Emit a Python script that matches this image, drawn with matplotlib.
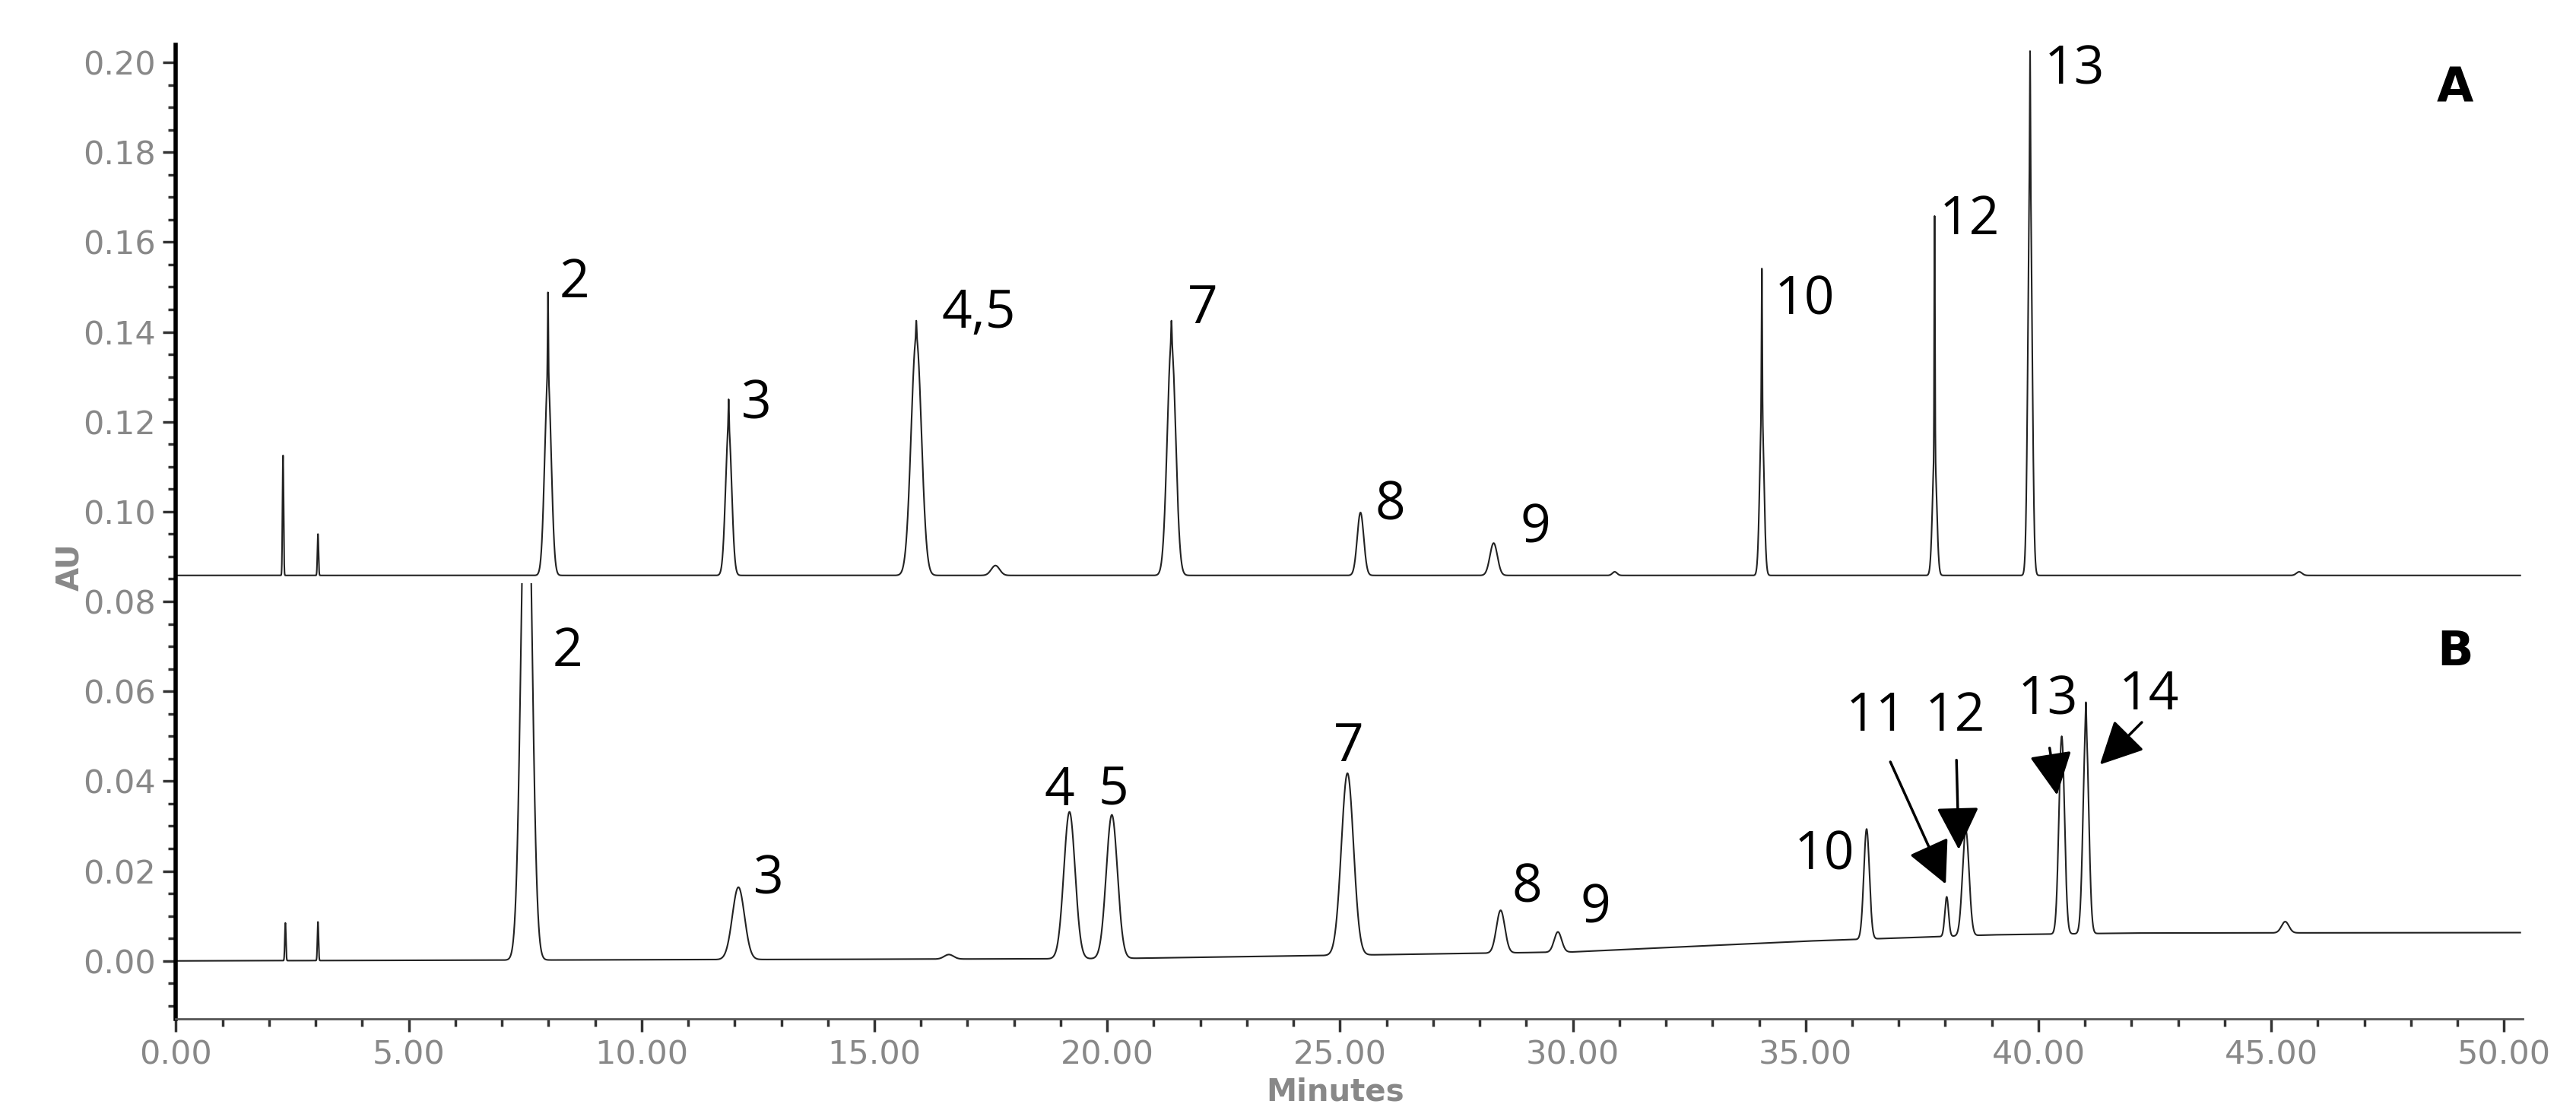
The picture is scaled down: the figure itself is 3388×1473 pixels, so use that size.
import numpy as np
import matplotlib
matplotlib.use("Agg")
import matplotlib.pyplot as plt
from matplotlib.patches import Rectangle

# peak tables: retention time (min), peak body height (AU),
# body width (sigma, min) and the extra height of the sharp tip sitting on top of the body
a_offset = 0.0858
a_times = [2.30, 3.05, 7.99, 11.87, 15.90, 17.60, 21.38, 25.44, 28.30, 30.90, 34.06, 37.77, 39.82, 45.60]
a_heights = [0.0267, 0.0092, 0.0440, 0.0328, 0.0530, 0.0022, 0.0520, 0.0140, 0.0072, 0.0008, 0.0367, 0.0270, 0.0883, 0.0008]
a_tips = [0.0, 0.0, 0.0190, 0.0064, 0.0037, 0.0, 0.0047, 0.0, 0.0, 0.0, 0.0316, 0.0530, 0.0284, 0.0]
a_widths = [0.012, 0.012, 0.07, 0.065, 0.11, 0.09, 0.09, 0.07, 0.08, 0.05, 0.045, 0.045, 0.045, 0.06]

b_times = [2.35, 3.05, 7.53, 12.08, 16.60, 19.19, 20.10, 25.16, 28.45, 29.68, 36.31, 38.03, 38.44, 40.50, 41.02, 45.30]
b_heights = [0.0084, 0.0086, 0.1280, 0.0161, 0.0010, 0.0327, 0.0320, 0.0405, 0.0095, 0.0045, 0.0245, 0.0088, 0.0235, 0.0440, 0.0460, 0.0025]
b_tips = [0.0, 0.0, 0.0, 0.0, 0.0, 0.0, 0.0, 0.0, 0.0, 0.0, 0.0, 0.0, 0.0, 0.0, 0.0055, 0.0]
b_widths = [0.012, 0.012, 0.11, 0.13, 0.10, 0.12, 0.12, 0.13, 0.09, 0.08, 0.06, 0.04, 0.07, 0.06, 0.06, 0.08]
b_base_t = [0.0, 20.0, 30.0, 35.0, 39.0, 42.0, 50.35]
b_base_y = [0.0, 0.0005, 0.0020, 0.0044, 0.0058, 0.0062, 0.0063]
b_top = 0.0841   # panel B is cut off just under the A baseline

a_labels = ["2", "3", "4,5", "7", "8", "9", "10", "12", "13"]
a_lab_x = [8.56, 12.46, 17.24, 22.05, 26.08, 29.19, 34.97, 38.52, 40.78]
a_lab_y = [0.1508, 0.1237, 0.144, 0.145, 0.1013, 0.0962, 0.147, 0.1648, 0.1983]

b_labels = ["2", "3", "4", "5", "7", "8", "9", "10", "11", "12", "13", "14"]
b_lab_x = [8.41, 12.72, 18.98, 20.14, 25.19, 29.01, 30.49, 35.41, 36.52, 38.21, 40.20, 42.38]
b_lab_y = [0.0687, 0.0179, 0.0377, 0.0377, 0.0475, 0.0162, 0.0116, 0.0234, 0.0543, 0.0543, 0.0579, 0.0590]

# arrows in panel B: (tail x, tail y, head x, head y)
arrows = [(36.82, 0.0443, 38.01, 0.0171),
          (38.24, 0.0447, 38.29, 0.0248),
          (40.24, 0.0474, 40.40, 0.0369),
          (42.22, 0.0531, 41.32, 0.0437)]


def trace(t, times, heights, tips, widths):
    y = np.zeros_like(t)
    for c, h, p, w in zip(times, heights, tips, widths):
        y += h * np.exp(-0.5 * ((t - c) / w) ** 2)
        y += p * np.exp(-0.5 * ((t - c) / 0.008) ** 2)
    return y


t = np.arange(0.0, 50.35, 0.002)
trace_a = a_offset + trace(t, a_times, a_heights, a_tips, a_widths)
trace_b = np.interp(t, b_base_t, b_base_y) + trace(t, b_times, b_heights, b_tips, b_widths)

fig = plt.figure(figsize=(33.88, 14.73), dpi=100)
ax = fig.add_axes([0.0683, 0.0903, 0.911, 0.8697])

ax.plot(t, trace_a, color="#222222", lw=1.5)
line_b, = ax.plot(t, trace_b, color="#222222", lw=1.5)
line_b.set_clip_path(Rectangle((-1, -0.05), 60, 0.05 + b_top, transform=ax.transData))

ax.set_xlim(0, 50.4)
ax.set_ylim(-0.0129, 0.2039)
ax.spines["top"].set_visible(False)
ax.spines["right"].set_visible(False)
ax.spines["left"].set_linewidth(4)
ax.spines["bottom"].set_linewidth(2)
ax.spines["bottom"].set_color("#555555")

ax.set_yticks(np.arange(0, 0.201, 0.02))
ax.set_yticks(np.arange(-0.01, 0.2041, 0.005), minor=True)
ax.set_xticks(np.arange(0, 50.1, 5))
ax.set_xticks(np.arange(0, 50.1, 1), minor=True)
ax.yaxis.set_major_formatter(matplotlib.ticker.FormatStrFormatter("%.2f"))
ax.xaxis.set_major_formatter(matplotlib.ticker.FormatStrFormatter("%.2f"))
ax.tick_params(axis="both", which="major", labelsize=31, labelcolor="#888888",
               length=12, width=2.5, color="#333333", pad=7)
ax.tick_params(axis="both", which="minor", length=7, width=2.5, color="#333333")

ax.set_ylabel("AU", fontsize=29, fontweight="bold", color="#888888")
ax.set_xlabel("Minutes", fontsize=29, fontweight="bold", color="#888888")
ax.yaxis.set_label_coords(-0.0386, 0.464)
ax.xaxis.set_label_coords(0.494, -0.060)

lab_font = dict(fontsize=50, family=["Open Sans", "DejaVu Sans"], ha="center", va="center", color="black")
for s, x, y in zip(a_labels, a_lab_x, a_lab_y):
    ax.text(x, y, s, **lab_font)
for s, x, y in zip(b_labels, b_lab_x, b_lab_y):
    ax.text(x, y, s, **lab_font)

ax.text(48.95, 0.1941, "A", fontsize=45, fontweight="bold", ha="center", va="center")
ax.text(48.95, 0.0687, "B", fontsize=45, fontweight="bold", ha="center", va="center")

for x0, y0, x1, y1 in arrows:
    ax.annotate("", xy=(x1, y1), xytext=(x0, y0),
                arrowprops=dict(arrowstyle="-|>,head_length=0.5,head_width=0.25", color="black",
                                lw=2.5, mutation_scale=70, shrinkA=0, shrinkB=0))

fig.savefig("out.png", dpi=100)
